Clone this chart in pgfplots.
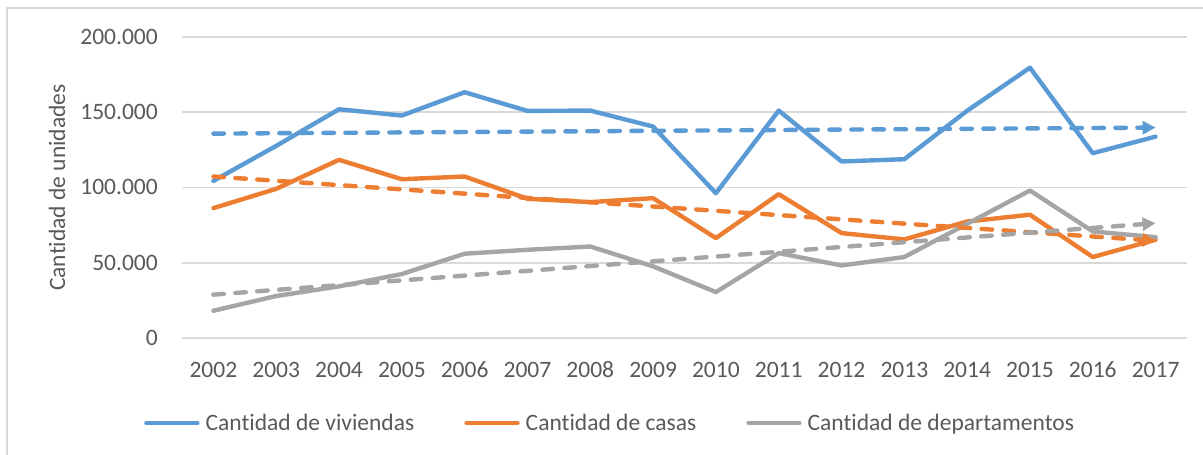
\documentclass[border=0pt]{standalone}
\usepackage{fontspec}
\setmainfont{Carlito}[Ligatures={NoCommon}]
\usepackage{pgfplots}
\pgfplotsset{compat=1.18}
\usetikzlibrary{arrows.meta}
\definecolor{cblue}{HTML}{5B9BD5}
\definecolor{corange}{HTML}{ED7D31}
\definecolor{cgray}{HTML}{A5A5A5}
\definecolor{ctext}{HTML}{595959}
\definecolor{cgrid}{HTML}{D9D9D9}
\begin{document}
\begin{tikzpicture}
\draw[cgrid, line width=1.5bp] (-175bp,-140bp) |- (1060bp,330bp);
\begin{axis}[
  at={(0,0)}, anchor=south west,
  scale only axis,
  width=1005bp, height=301bp,
  xmin=-0.5, xmax=15.5,
  ymin=0, ymax=200000,
  scaled y ticks=false,
  xtick={0,...,15},
  xticklabels={2002,2003,2004,2005,2006,2007,2008,2009,2010,2011,2012,2013,2014,2015,2016,2017},
  ytick={0,50000,100000,150000,200000},
  yticklabels={0,50.000,100.000,150.000,200.000},
  axis line style={draw=none},
  major tick length=0pt,
  ymajorgrids,
  grid style={cgrid, line width=1.5bp},
  tick label style={font=\fontsize{23.6}{28}\selectfont, text=ctext},
  yticklabel style={anchor=base east, inner sep=0pt, xshift=-24bp, yshift=-7.5bp},
  xticklabel style={anchor=base, inner sep=0pt, yshift=-39bp},
  ylabel={Cantidad de unidades},
  ylabel style={at={(axis description cs:-0.12438,0.5)}, anchor=center, font=\fontsize{23.6}{28}\selectfont, text=ctext},
  legend columns=3,
  legend style={draw=none, fill=none, at={(axis description cs:-0.03781,-0.28239)}, anchor=west,
    inner sep=0pt, font=\fontsize{23.6}{28}\selectfont, text=ctext,
    nodes={inner sep=0pt, anchor=west},
    /tikz/every odd column/.append style={column sep=6bp},
    /tikz/every even column/.append style={column sep=50bp}},
  legend image code/.code={\draw[#1, line cap=round] (0bp,0bp) -- (51bp,0bp);},
  every axis plot/.append style={line width=4.4bp, line join=round},
]
\addplot[cblue, line cap=round] coordinates {(0,104400) (1,127650) (2,152000) (3,147800) (4,163300) (5,150900) (6,151100) (7,140500) (8,96200) (9,151100) (10,117300) (11,118800) (12,151000) (13,179600) (14,122800) (15,133800)};
\addlegendentry{Cantidad de viviendas}
\addplot[corange, line cap=round] coordinates {(0,86300) (1,99100) (2,118400) (3,105500) (4,107300) (5,92500) (6,90300) (7,92900) (8,66400) (9,95600) (10,69700) (11,65500) (12,77400) (13,81900) (14,53800) (15,65300)};
\addlegendentry{Cantidad de casas}
\addplot[cgray, line cap=round] coordinates {(0,18100) (1,27900) (2,34300) (3,42500) (4,56000) (5,58600) (6,60800) (7,47600) (8,30500) (9,56400) (10,48200) (11,53800) (12,75900) (13,98000) (14,70800) (15,67000)};
\addlegendentry{Cantidad de departamentos}
\addplot[cblue, line cap=round, dash pattern=on 10.5bp off 11.5bp, -{Triangle[length=13bp,width=13bp]}, forget plot] coordinates {(0,135800) (15,139800)};
\addplot[corange, line cap=round, dash pattern=on 10.5bp off 11.5bp, -{Triangle[length=13bp,width=13bp]}, forget plot] coordinates {(0,107300) (15,64600)};
\addplot[cgray, line cap=round, dash pattern=on 10.5bp off 11.5bp, -{Triangle[length=13bp,width=13bp]}, forget plot] coordinates {(0,28800) (15,76300)};
\end{axis}
\pgfresetboundingbox
\path[use as bounding box] (-182bp,-117bp) rectangle (1021bp,338bp);
\end{tikzpicture}
\end{document}
